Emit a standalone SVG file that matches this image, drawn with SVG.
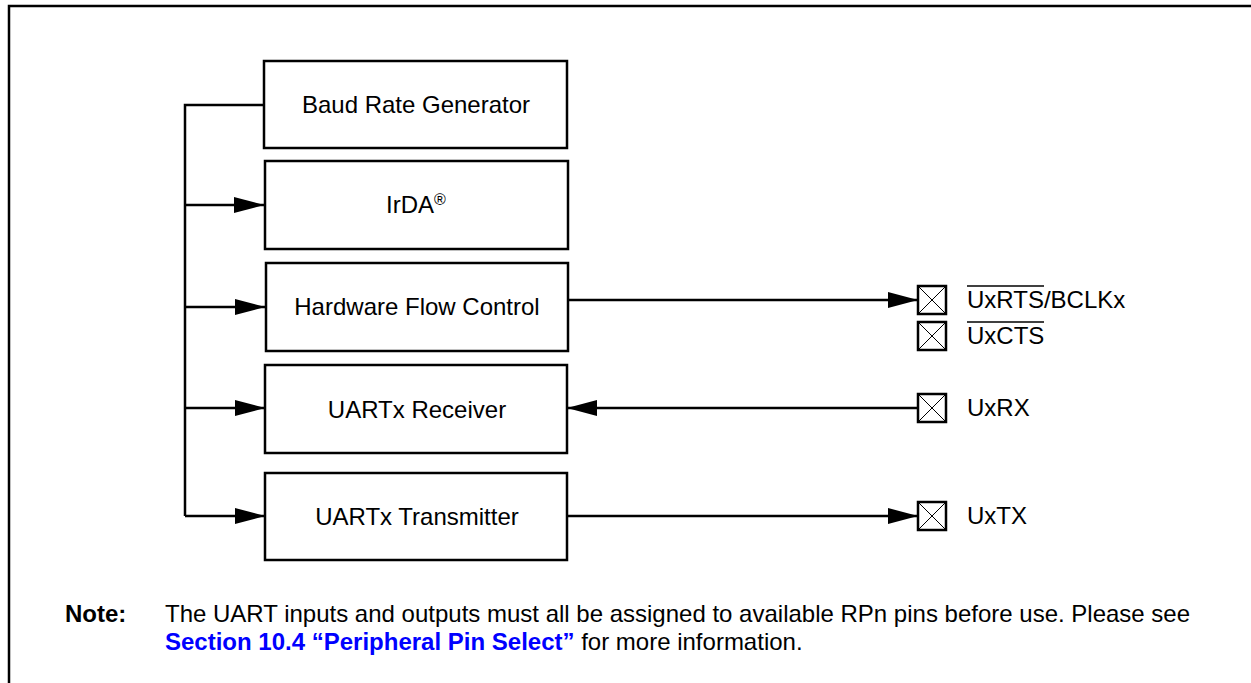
<svg xmlns="http://www.w3.org/2000/svg" width="1251" height="683" viewBox="0 0 1251 683">
<style>
.box{fill:#fff;stroke:#000;stroke-width:2.5}
.ln{fill:none;stroke:#000;stroke-width:2.5}
.t{font-family:"Liberation Sans",Arial,sans-serif;font-size:24px;fill:#000}
.c{text-anchor:middle}
.pin{fill:#fff;stroke:#000;stroke-width:2.5}
.x{stroke:#000;stroke-width:1}
.ov{stroke:#000;stroke-width:1.5}
.n{font-family:"Liberation Sans",Arial,sans-serif;font-size:24px;fill:#000}
.b{font-weight:bold}
.lk{fill:#0000ff;font-weight:bold}
</style>
<defs>
<marker id="ah" markerUnits="userSpaceOnUse" markerWidth="30" markerHeight="16" refX="30" refY="8" orient="auto">
<path d="M0,0 L30,8 L0,16 z" fill="#000"/>
</marker>
</defs>
<polyline class="ln" points="9,683 9,6 1251,6"/>
<g id="connectors">
<polyline class="ln" points="264,105 185,105 185,516"/>
<line class="ln" x1="185" y1="205" x2="264" y2="205" marker-end="url(#ah)"/>
<line class="ln" x1="185" y1="307" x2="265" y2="307" marker-end="url(#ah)"/>
<line class="ln" x1="185" y1="408" x2="265" y2="408" marker-end="url(#ah)"/>
<line class="ln" x1="185" y1="516" x2="265" y2="516" marker-end="url(#ah)"/>
<line class="ln" x1="568" y1="300" x2="918" y2="300" marker-end="url(#ah)"/>
<line class="ln" x1="918" y1="408" x2="567" y2="408" marker-end="url(#ah)"/>
<line class="ln" x1="567" y1="516" x2="918" y2="516" marker-end="url(#ah)"/>
</g>
<g id="baud"><rect class="box" x="264" y="61" width="303" height="87"/><text class="t c" x="416" y="113">Baud Rate Generator</text></g>
<g id="irda"><rect class="box" x="265" y="161" width="303" height="88"/><text class="t c" x="416" y="213">IrDA<tspan font-size="16" dy="-8">®</tspan></text></g>
<g id="hfc"><rect class="box" x="266" y="263" width="302" height="88"/><text class="t c" x="417" y="315">Hardware Flow Control</text></g>
<g id="rx"><rect class="box" x="265" y="365" width="302" height="88"/><text class="t c" x="417" y="418">UARTx Receiver</text></g>
<g id="tx"><rect class="box" x="265" y="473" width="302" height="87"/><text class="t c" x="417" y="525">UARTx Transmitter</text></g>
<g id="pin-rts"><rect class="pin" x="918" y="286" width="28" height="28"/><path class="x" d="M918,286 L946,314 M946,286 L918,314"/><text class="t" x="967" y="308">UxRTS/BCLKx</text><line class="ov" x1="967" y1="286" x2="1044" y2="286"/></g>
<g id="pin-cts"><rect class="pin" x="918" y="322" width="28" height="28"/><path class="x" d="M918,322 L946,350 M946,322 L918,350"/><text class="t" x="967" y="344">UxCTS</text><line class="ov" x1="967" y1="322" x2="1044" y2="322"/></g>
<g id="pin-rx"><rect class="pin" x="918" y="394" width="28" height="28"/><path class="x" d="M918,394 L946,422 M946,394 L918,422"/><text class="t" x="967" y="416">UxRX</text></g>
<g id="pin-tx"><rect class="pin" x="918" y="502" width="28" height="28"/><path class="x" d="M918,502 L946,530 M946,502 L918,530"/><text class="t" x="967" y="524">UxTX</text></g>
<g id="note">
<text class="n b" x="65" y="622">Note:</text>
<text class="n" x="165" y="622">The UART inputs and outputs must all be assigned to available RPn pins before use. Please see</text>
<text class="n" x="165" y="650"><tspan class="lk">Section 10.4 “Peripheral Pin Select”</tspan> for more information.</text>
</g>
</svg>
